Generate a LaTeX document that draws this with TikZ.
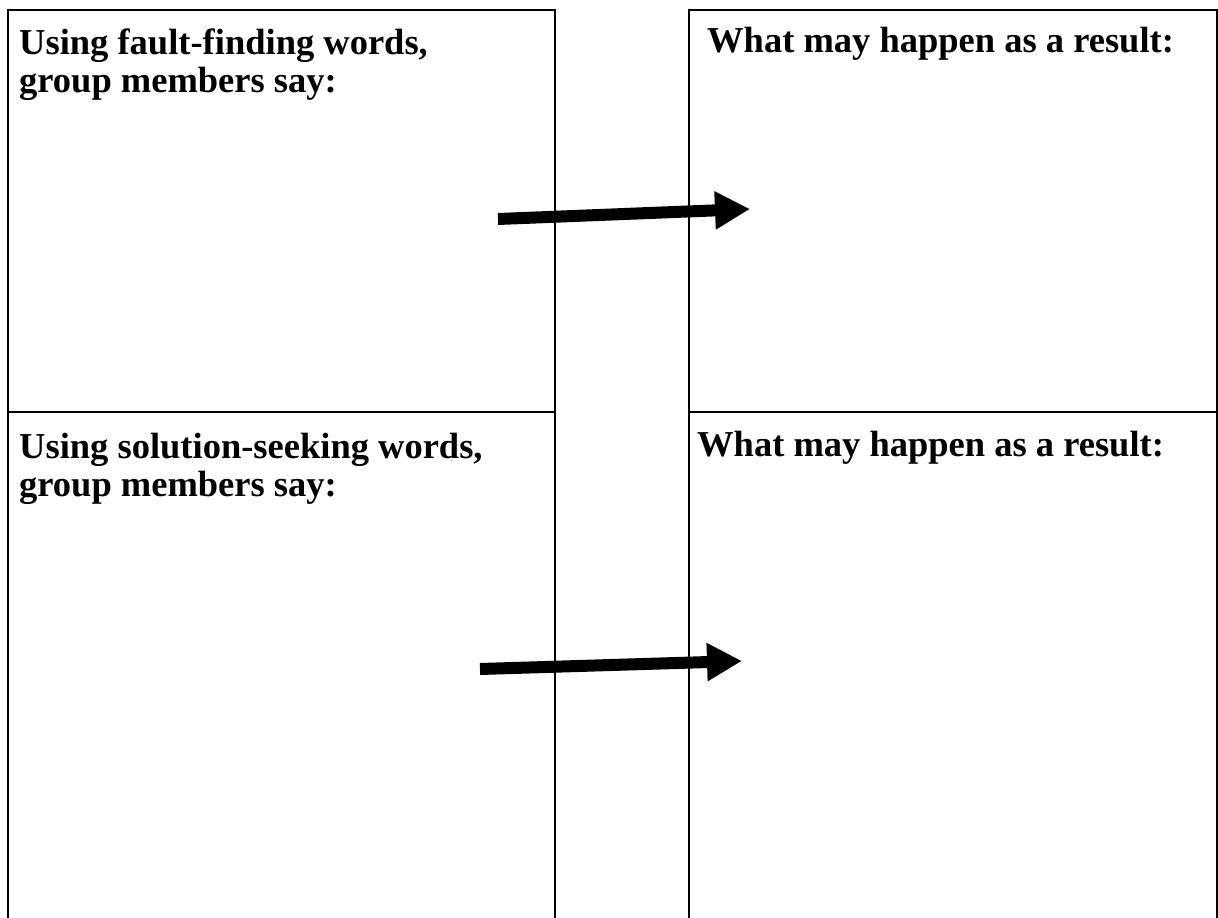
\documentclass[tikz,border=0pt]{standalone}
\usepackage{fontspec}
\setmainfont{Liberation Serif}
\usetikzlibrary{arrows.meta, positioning}

\begin{document}
\begin{tikzpicture}[x=1pt, y=-1pt,
    frame/.style={line width=2.4pt},
    heading/.style={anchor=north west, inner sep=0pt, align=left,
                    font=\fontsize{36.5}{38}\selectfont\bfseries},
    fatarrow/.style={line width=12pt, -{Triangle[length=35pt,width=36pt]}}]
  \useasboundingbox (0,0) rectangle (1218,918);

  % left column: two stacked boxes, open at the bottom
  \draw[frame] (8,918) -- (8,10) -- (555,10) -- (555,918);
  \draw[frame] (8,412) -- (555,412);
  % right column
  \draw[frame] (689,918) -- (689,10) -- (1217,10) -- (1217,918);
  \draw[frame] (689,412) -- (1217,412);

  \node[heading] (fault) at (19,29) {Using fault-finding words,\\group members say:};
  \node[heading] (resultA) at (707,27) {What may happen as a result:};
  \node[heading] (solution) at (19,433) {Using solution-seeking words,\\group members say:};
  \node[heading] (resultB) at (697,431) {What may happen as a result:};

  \coordinate (fromA) at (498,219);
  \coordinate (toA) at (750,209);
  \coordinate (fromB) at (480,669);
  \coordinate (toB) at (742,661);
  \draw[fatarrow] (fromA) -- (toA);
  \draw[fatarrow] (fromB) -- (toB);
\end{tikzpicture}
\end{document}
